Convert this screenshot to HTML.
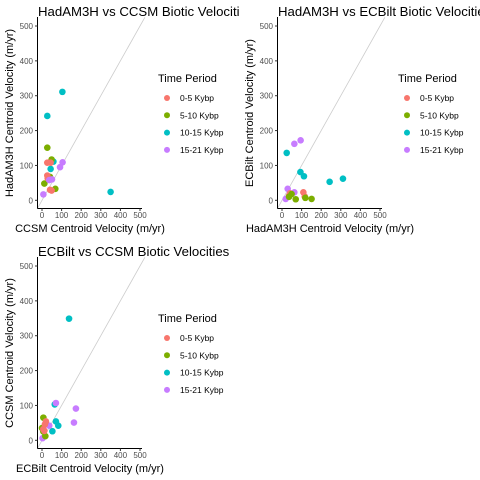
<!DOCTYPE html>
<html><head><meta charset="utf-8"><style>body{margin:0;background:#fff}svg{display:block;font-family:"Liberation Sans",sans-serif}</style></head>
<body>
<svg id="c" width="480" height="480"></svg>
<script>
const groups = ["0-5 Kybp","5-10 Kybp","10-15 Kybp","15-21 Kybp"];
const colors = ["#F8766D","#7CAE00","#00BFC4","#C77CFF"];
const p1Titles = ["HadAM3H vs CCSM Biotic Velocities","CCSM Centroid Velocity (m/yr)","HadAM3H Centroid Velocity (m/yr)"];
const p1Group = [2,2,2,2,2, 1,1,1,1,1, 0,0,0,0,0,0, 3,3,3,3,3];
const p1X = [104,27,350,44,58, 27,49,12,68,41, 27,27,44,41,49,29, 7,92,105,51,37];
const p1Y = [311,242,24,90,111, 151,117,48,33,67, 108,71,108,30,28,63, 17,95,109,60,58];
const p2Titles = ["HadAM3H vs ECBilt Biotic Velocities","HadAM3H Centroid Velocity (m/yr)","ECBilt Centroid Velocity (m/yr)"];
const p2Group = [2,2,2,2,2, 3,3,3,3,3, 0,0,0,0, 1,1,1,1,1];
const p2X = [24,94,112,243,311, 63,95,29,63,19, 109,116,36,41, 49,70,119,151,36];
const p2Y = [136,81,69,53,62, 162,172,33,23,4, 23,11,13,20, 18,3,7,4,10];
const p3Titles = ["ECBilt vs CCSM Biotic Velocities","ECBilt Centroid Velocity (m/yr)","CCSM Centroid Velocity (m/yr)"];
const p3Group = [2,2,2,2,2, 3,3,3,3,3, 1,1,1,1, 0,0,0,0];
const p3X = [138,65,71,83,53, 71,173,163,37,3, 7,0,17,7, 15,7,20,12];
const p3Y = [349,103,54,42,26, 107,91,51,42,6, 65,35,12,25, 46,32,54,27];
const ticks = [0,100,200,300,400,500];

const NS="http://www.w3.org/2000/svg";
const svg=document.getElementById('c');
function mk(tag,attrs,parent,text){const e=document.createElementNS(NS,tag);for(const k in attrs)e.setAttribute(k,attrs[k]);if(text!==undefined)e.textContent=text;(parent||svg).appendChild(e);return e;}

function panel(ox,oy,titles,gs,xs,ys,id){
  const sx=v=>ox+42+v*0.196;
  const sy=v=>oy+200.3-v*0.3486;
  const g=mk('g',{});
  
  
  const cp=mk('clipPath',{id:'cp'+id},g);mk('rect',{x:ox,y:oy,width:240,height:240},cp);
  const t=mk('text',{x:ox+38,y:oy+16,'font-size':13.2,fill:'#000','clip-path':'url(#cp'+id+')'},g,titles[0]);
  
  
  const top=(200.3-17.3)/0.3486;
  const diag=mk('line',{x1:sx(-25),y1:sy(-25),x2:sx(top),y2:sy(top),stroke:'#cccccc','stroke-width':0.8},g);
  
  
  const ax=mk('line',{x1:ox+37.5,y1:oy+208.5,x2:ox+142,y2:oy+208.5,stroke:'#000','stroke-width':1},g);
  
  
  const ay=mk('line',{x1:ox+37.5,y1:oy+17,x2:ox+37.5,y2:oy+208.5,stroke:'#000','stroke-width':1},g);
  
  
  ticks.forEach(v=>{
    mk('line',{x1:sx(v),y1:oy+208.5,x2:sx(v),y2:oy+211,stroke:'#333'},g);
    const xl=mk('text',{x:sx(v),y:oy+218,'font-size':8,'text-anchor':'middle',fill:'#4d4d4d'},g,v);
    
    
    mk('line',{x1:ox+35,y1:sy(v),x2:ox+37.5,y2:sy(v),stroke:'#333'},g);
    const yl=mk('text',{x:ox+33,y:sy(v)+3,'font-size':8,'text-anchor':'end',fill:'#4d4d4d'},g,v);
    
    
  });
  const xt=mk('text',{x:ox+90,y:oy+232,'font-size':11,'text-anchor':'middle'},g,titles[1]);
  
  
  const yt=mk('text',{x:0,y:0,'font-size':11,'text-anchor':'middle',transform:`translate(${ox+13},${oy+113}) rotate(-90)`},g,titles[2]);
  
  
  xs.forEach((v,i)=>{
    const c=mk('circle',{cx:sx(v),cy:sy(ys[i]),r:3.3,fill:colors[gs[i]]},g);
    
    
  });
  const lt=mk('text',{x:ox+158,y:oy+82,'font-size':11},g,'Time Period');
  
  
  groups.forEach((n,i)=>{
    const y=oy+98+i*17.3;
    const d=mk('circle',{cx:ox+167,cy:y,r:3,fill:colors[i]},g);
    
    
    const l=mk('text',{x:ox+180,y:y+3,'font-size':8.5},g,n);
    
    
  });
}
panel(0,0,p1Titles,p1Group,p1X,p1Y,1);
panel(240,0,p2Titles,p2Group,p2X,p2Y,2);
panel(0,240,p3Titles,p3Group,p3X,p3Y,3);
</script>
</body></html>
